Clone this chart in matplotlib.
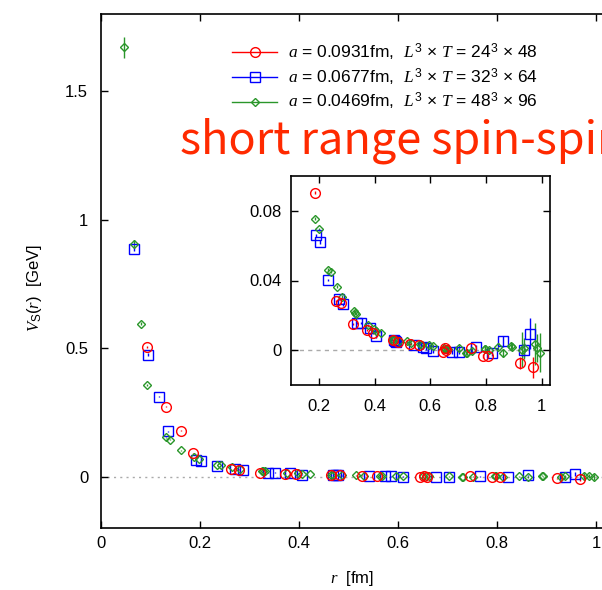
import matplotlib
matplotlib.use('Agg')
import matplotlib.pyplot as plt
from matplotlib.lines import Line2D

plt.rcParams['font.family'] = ['Liberation Sans', 'DejaVu Sans']
plt.rcParams['mathtext.fontset'] = 'custom'
plt.rcParams['mathtext.rm'] = 'Liberation Sans'
plt.rcParams['mathtext.it'] = 'Liberation Serif:italic'
plt.rcParams['mathtext.bf'] = 'Liberation Sans:bold'

# ---------------- data ----------------
r_red = [0.0931, 0.1317, 0.1613, 0.1862, 0.2633, 0.2793, 0.3225, 0.3724, 0.3950,
         0.4655, 0.4838, 0.5266, 0.5586, 0.6450, 0.6517, 0.6583, 0.7448, 0.7900,
         0.8063, 0.9216, 0.9675]
V_red = [0.506, 0.272, 0.178, 0.0905, 0.0282, 0.0272, 0.0151, 0.0118, 0.0098,
         0.0056, 0.0046, 0.0035, 0.0031, -0.0008, 0.0014, 0.0002, 0.0015, -0.0033,
         -0.0033, -0.0072, -0.0099]
e_red = [0.004, 0.003, 0.002, 0.0008, 0.0006, 0.0006, 0.0006, 0.0006, 0.0006,
         0.0006, 0.0006, 0.0008, 0.0008, 0.001, 0.001, 0.001, 0.0012, 0.0012,
         0.0012, 0.0035, 0.006]

r_blue = [0.0677, 0.0957, 0.1173, 0.1354, 0.1915, 0.2031, 0.2345, 0.2708, 0.2872,
          0.3385, 0.3518, 0.3830, 0.4062, 0.4690, 0.4739, 0.4787, 0.5416, 0.5745,
          0.5863, 0.6093, 0.6770, 0.7036, 0.7660, 0.8210, 0.8617, 0.9380, 0.9574]
V_blue = [0.887, 0.475, 0.311, 0.176, 0.0659, 0.062, 0.0403, 0.0296, 0.0263,
          0.0156, 0.0156, 0.0125, 0.0079, 0.006, 0.0055, 0.0048, 0.003, 0.0017,
          0.0012, -0.0004, -0.0009, -0.0012, 0.0017, -0.0017, 0.005, 0.0002, 0.0094]
e_blue = [0.008, 0.004, 0.003, 0.002, 0.001, 0.001, 0.0008, 0.0007, 0.0007,
          0.0007, 0.0007, 0.0007, 0.0007, 0.0008, 0.0008, 0.0008, 0.0009, 0.001,
          0.001, 0.001, 0.0012, 0.0012, 0.0015, 0.0015, 0.003, 0.004, 0.009]

r_green = [0.0469, 0.0663, 0.0812, 0.0938, 0.1327, 0.1407, 0.1625, 0.1876, 0.1990,
           0.2345, 0.2437, 0.2653, 0.2814, 0.3249, 0.3283, 0.3317, 0.3752, 0.3980,
           0.4062, 0.4221, 0.4643, 0.4690, 0.4874, 0.5159, 0.5306, 0.5628, 0.5686,
           0.5969, 0.6097, 0.6499, 0.6566, 0.6633, 0.7035, 0.7296, 0.7312, 0.7504,
           0.7959, 0.7973, 0.8123, 0.8442, 0.8617, 0.8911, 0.8935, 0.9286, 0.9380,
           0.9748, 0.9849, 0.9950]
V_green = [1.67, 0.907, 0.594, 0.358, 0.154, 0.143, 0.103, 0.0755, 0.0693,
           0.0461, 0.045, 0.0365, 0.0307, 0.0224, 0.0215, 0.021, 0.0143, 0.0122,
           0.0108, 0.0098, 0.006, 0.0058, 0.005, 0.005, 0.004, 0.0038, 0.003,
           0.0027, 0.0022, 0.001, 0.0005, 0.0008, 0.0015, -0.0015, -0.0018, -0.0005,
           0.0007, 0.0005, 0.0, 0.0021, -0.0017, 0.0025, 0.002, 0.0002, 0.001,
           0.0037, 0.001, -0.0014]
e_green = [0.04, 0.012, 0.006, 0.004, 0.002, 0.002, 0.0015, 0.001, 0.001,
           0.0008, 0.0008, 0.0008, 0.0008, 0.0008, 0.0008, 0.0008, 0.0008, 0.0008,
           0.0008, 0.0008, 0.0008, 0.0008, 0.0008, 0.0008, 0.0008, 0.0008, 0.0008,
           0.0008, 0.0008, 0.0008, 0.001, 0.001, 0.0012, 0.0012, 0.0012, 0.0015,
           0.0015, 0.0015, 0.0015, 0.002, 0.0025, 0.002, 0.002, 0.010, 0.006,
           0.012, 0.008, 0.011]

labels = [r'$a$ = 0.0931fm,  $L^{\mathrm{3}}$ × $T$ = 24$^{\mathrm{3}}$ × 48',
          r'$a$ = 0.0677fm,  $L^{\mathrm{3}}$ × $T$ = 32$^{\mathrm{3}}$ × 64',
          r'$a$ = 0.0469fm,  $L^{\mathrm{3}}$ × $T$ = 48$^{\mathrm{3}}$ × 96']

main_xticks = [0, 0.2, 0.4, 0.6, 0.8, 1.0]
main_xticklabels = ['0', '0.2', '0.4', '0.6', '0.8', '1']
main_yticks = [0, 0.5, 1.0, 1.5]
main_yticklabels = ['0', '0.5', '1', '1.5']
ins_xticks = [0.2, 0.4, 0.6, 0.8, 1.0]
ins_xticklabels = ['0.2', '0.4', '0.6', '0.8', '1']
ins_yticks = [0, 0.04, 0.08]
ins_yticklabels = ['0', '0.04', '0.08']

RED = '#ff0000'
BLUE = '#0000ff'
GREEN = '#2a962a'

series = [
    (r_blue, V_blue, e_blue, BLUE, 's', 6.5),
    (r_green, V_green, e_green, GREEN, 'D', 4.2),
    (r_red, V_red, e_red, RED, 'o', 7.0),
]

W, H = 602, 590
fig = plt.figure(figsize=(W / 100, H / 100), dpi=100)

def fx(px):
    return px / W

def fy(py):
    return 1 - py / H

# main axes (extends beyond right edge, as in the cropped original)
ax_l, ax_r_unit = 100.7, 495.5
ax_top, ax_bot = 14, 528
xmax = 1.2
ax = fig.add_axes([fx(ax_l), fy(ax_bot), xmax * ax_r_unit / W, (ax_bot - ax_top) / H])

def draw(a):
    for r, v, e, c, m, ms in series:
        a.errorbar(r, v, yerr=e, fmt=m, color=c, mfc='none', mec=c, ms=ms,
                   mew=1.0, elinewidth=1.0, capsize=0, zorder=3)

draw(ax)
ax.axhline(0, color='#aaaaaa', ls=(0, (1.5, 3)), lw=1.0, zorder=1)
ax.set_xlim(0, xmax)
ax.set_ylim(-0.2, 1.8)
ax.set_xticks(main_xticks)
ax.set_xticklabels(main_xticklabels)
ax.set_yticks(main_yticks)
ax.set_yticklabels(main_yticklabels)
ax.tick_params(direction='in', top=True, right=True, length=5, width=1.0, labelsize=12)
ax.tick_params(axis='x', pad=6)
ax.tick_params(axis='y', pad=9)
for s in ax.spines.values():
    s.set_linewidth(1.2)

ax.set_xlabel(r'$r$  [fm]', fontsize=12)
ax.xaxis.set_label_coords((352 - ax_l) / (xmax * ax_r_unit), -(579 - ax_bot) / (ax_bot - ax_top))
ax.xaxis.label.set_va('center')
ax.set_ylabel(r'$V_{\mathrm{S}}(r)$  [GeV]', fontsize=12)
ax.yaxis.set_label_coords((35 - ax_l) / (xmax * ax_r_unit), (ax_bot - 288) / (ax_bot - ax_top))
ax.yaxis.label.set_va('center')

# legend
handles = [Line2D([], [], color=c, marker=m, mfc='none', mec=c, ms=ms, mew=1.0, lw=1.0)
           for (_, _, _, c, m, ms) in [series[2], series[0], series[1]]]
leg = fig.legend(handles, labels, loc='center left', bbox_to_anchor=(fx(232), fy(77)),
                 frameon=False, fontsize=12.5, handlelength=2.6, handletextpad=0.6,
                 borderpad=0, borderaxespad=0, labelspacing=0.2)

fig.text(fx(180), fy(141), 'short range spin-spin', fontsize=32.5, color='#ff2a00',
         family=['Noto Sans CJK JP', 'DejaVu Sans'], ha='left', va='center')

# inset
in_l, in_r, in_t, in_b = 291, 550, 176, 385
axi = fig.add_axes([fx(in_l), fy(in_b), (in_r - in_l) / W, (in_b - in_t) / H])
axi.set_facecolor('white')
draw(axi)
axi.axhline(0, color='#aaaaaa', ls=(0, (3, 3)), lw=1.0, zorder=1)
axi.set_xlim(0.1, 1.03)
axi.set_ylim(-0.02, 0.1)
axi.set_xticks(ins_xticks)
axi.set_xticklabels(ins_xticklabels)
axi.set_yticks(ins_yticks)
axi.set_yticklabels(ins_yticklabels)
axi.tick_params(direction='in', top=True, right=True, length=5, width=1.0, labelsize=12)
axi.tick_params(axis='x', pad=10)
axi.tick_params(axis='y', pad=7)
for s in axi.spines.values():
    s.set_linewidth(1.2)

fig.savefig('out.png', dpi=100)
